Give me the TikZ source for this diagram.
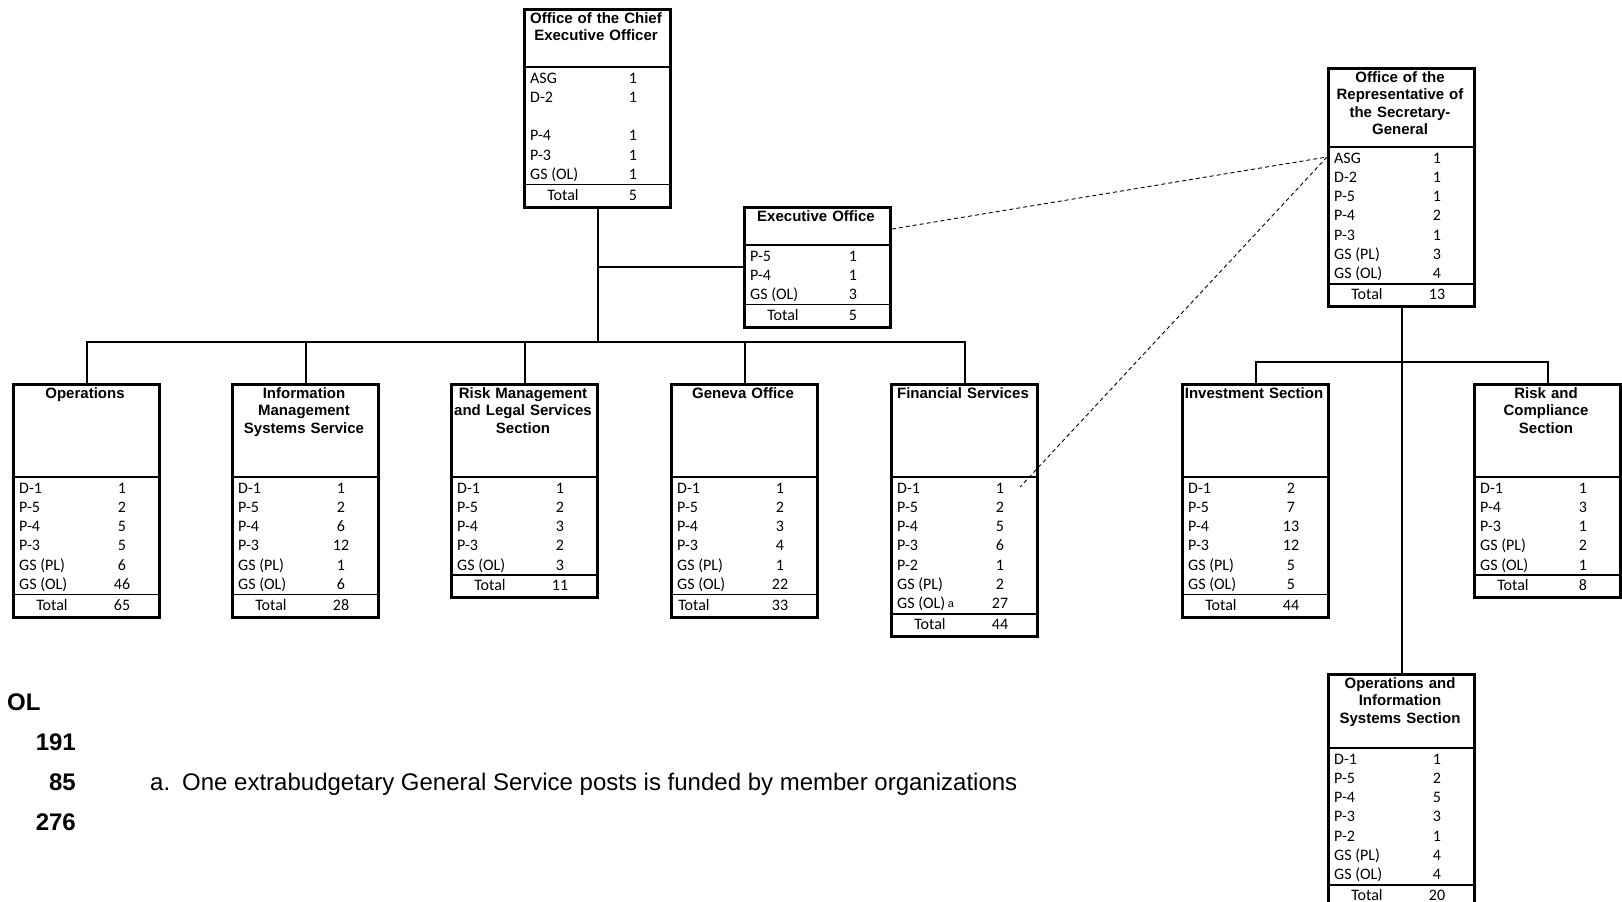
\documentclass[tikz,border=0pt]{standalone}
\usepackage{fontspec}
\setmainfont{Carlito}
\newfontfamily\headfont{Liberation Sans}
\usetikzlibrary{calc}

% one staffing box: [x of "Total"] name, left, top, header rule, title, rows, total
\newcommand{\postbox}[8][40]{%
  \foreach \lab/\num [count=\i] in {#7} {
    \node[rowtext, anchor=base west] at (#3+7, #5+16+19.3*\i-19.3) {\lab};
    \node[rowtext, anchor=base] at (#3+110, #5+16+19.3*\i-19.3) {\num};
    \xdef\nrows{\i}
  }
  \pgfmathsetmacro{\rulel}{#5+21+19.3*(\nrows-1)}
  \pgfmathsetmacro{\boxb}{\rulel+21}
  \node[frame, anchor=north west, minimum height={(\boxb-#4)*1pt}] (#2) at (#3,#4) {};
  \node[headtext, anchor=north] at (#3+73, #4+4) {#6};
  \draw[rule] (#3,#5) -- (#3+146,#5);
  \draw[rule] (#3,\rulel) -- (#3+146,\rulel);
  \node[rowtext, anchor=base] at (#3+#1, \rulel+15.5) {Total};
  \node[rowtext, anchor=base] at (#3+110, \rulel+15.5) {#8};
}

\begin{document}
\begin{tikzpicture}[x=1pt, y=-1pt,
    frame/.style={draw, line width=3pt, minimum width=146pt, inner sep=0pt},
    rule/.style={line width=1.6pt},
    link/.style={line width=2pt},
    liaison/.style={line width=0.9pt, dash pattern=on 4pt off 3pt},
    headtext/.style={font=\headfont\bfseries\fontsize{15}{17.5}\selectfont,
      text width=146pt, align=center, inner sep=0pt},
    rowtext/.style={font=\fontsize{16}{19}\selectfont, inner sep=0pt},
    note/.style={font=\headfont\fontsize{24}{28}\selectfont, inner sep=0pt}]
  \useasboundingbox (0,0) rectangle (1622,902);

  % top offices
  \postbox{oceo}{523}{8}{67}{Office of the Chief\\Executive Officer}
    {ASG/1, D-2/1, {}/{}, P-4/1, P-3/1, GS (OL)/1}{5}
  \postbox{exec}{743}{206}{245}{Executive Office}
    {P-5/1, P-4/1, GS (OL)/3}{5}
  \postbox{orsg}{1327}{67}{147}{Office of the\\Representative of\\the Secretary-\\General}
    {ASG/1, D-2/1, P-5/1, P-4/2, P-3/1, GS (PL)/3, GS (OL)/4}{13}

  % services under the CEO
  \postbox{ops}{12}{383}{477}{Operations}
    {D-1/1, P-5/2, P-4/5, P-3/5, GS (PL)/6, GS (OL)/46}{65}
  \postbox{imss}{231}{383}{477}{Information\\Management\\Systems Service}
    {D-1/1, P-5/2, P-4/6, P-3/12, GS (PL)/1, GS (OL)/6}{28}
  \postbox{rmls}{450}{383}{477}{Risk Management\\and Legal Services\\Section}
    {D-1/1, P-5/2, P-4/3, P-3/2, GS (OL)/3}{11}
  \postbox[24]{geneva}{670}{383}{477}{Geneva Office}
    {D-1/1, P-5/2, P-4/3, P-3/4, GS (PL)/1, GS (OL)/22}{33}
  \postbox{fin}{890}{383}{477}{Financial Services}
    {D-1/1, P-5/2, P-4/5, P-3/6, P-2/1, GS (PL)/2,
     GS (OL)\,{\headfont\fontsize{11}{11}\selectfont\raisebox{1.5pt}{a}}/27}{44}

  % sections under the RSG
  \postbox{inv}{1181}{383}{477}{Investment Section}
    {D-1/2, P-5/7, P-4/13, P-3/12, GS (PL)/5, GS (OL)/5}{44}
  \postbox{rcs}{1473}{383}{477}{Risk and\\Compliance\\Section}
    {D-1/1, P-4/3, P-3/1, GS (PL)/2, GS (OL)/1}{8}
  \postbox{oiss}{1327}{673}{748}{Operations and\\Information\\Systems Section}
    {D-1/1, P-5/2, P-4/5, P-3/3, P-2/1, GS (PL)/4, GS (OL)/4}{20}

  % solid lines
  \coordinate (fork) at (oceo.south |- 0,342);
  \draw[link] (oceo.south) -- (fork);
  \draw[link] (oceo.south |- exec.west) -- (exec.west);
  \draw[link] (ops.north) -- (ops.north |- fork) -- (fin.north |- fork) -- (fin.north);
  \foreach \b in {imss, rmls, geneva}
    \draw[link] (\b.north) -- (\b.north |- fork);
  \coordinate (fork2) at (orsg.south |- 0,362);
  \draw[link] (orsg.south) -- (oiss.north);
  \draw[link] (inv.north) -- (inv.north |- fork2) -- (rcs.north |- fork2) -- (rcs.north);

  % dotted liaison
  \coordinate (eoout) at ($(exec.north east)+(0,23)$);
  \coordinate (rsgin) at ($(orsg.north west)+(0,90)$);
  \coordinate (fsin) at ($(fin.north east)+(-19,104)$);
  \draw[liaison] (eoout) -- (rsgin) -- (fsin);

  % totals and footnote
  \node[note, font=\headfont\bfseries\fontsize{24}{28}\selectfont, anchor=base west] (olhead) at (7,710) {OL};
  \node[note, font=\headfont\bfseries\fontsize{24}{28}\selectfont, anchor=base east] (olreg) at (76,750) {191};
  \node[note, font=\headfont\bfseries\fontsize{24}{28}\selectfont, anchor=base east] (olxb) at (76,790) {85};
  \node[note, font=\headfont\bfseries\fontsize{24}{28}\selectfont, anchor=base east] (olall) at (76,830) {276};
  \node[note, anchor=base west] (fnote) at (150,790) {a.\enspace One extrabudgetary General Service posts is funded by member organizations};
\end{tikzpicture}
\end{document}
